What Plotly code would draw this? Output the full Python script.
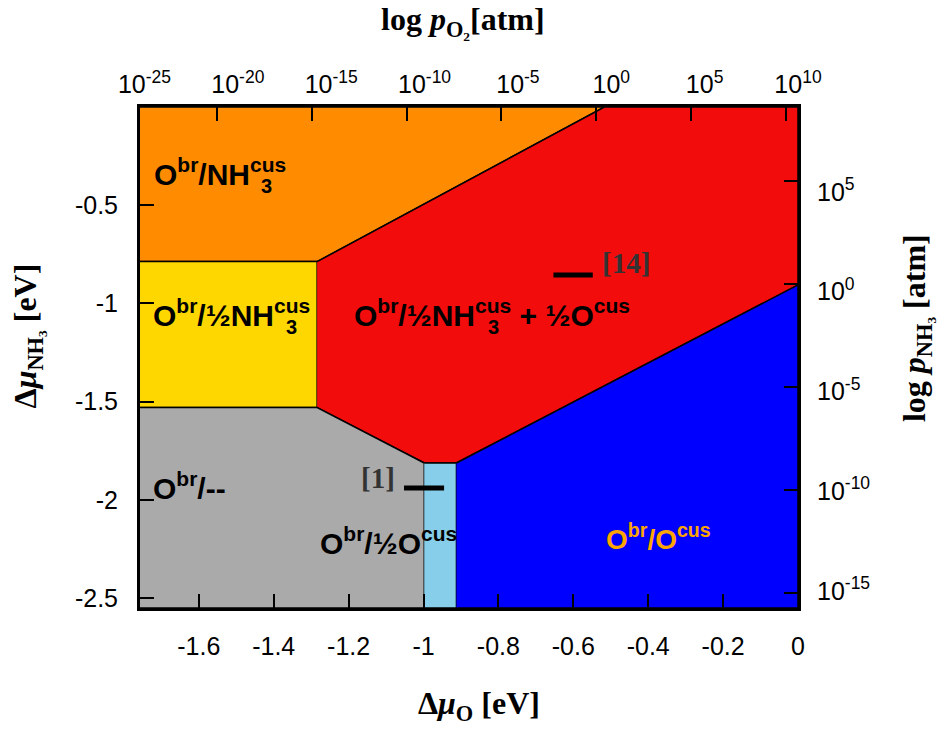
import plotly.graph_objects as go

# ---------------- data (Δμ_O, Δμ_NH3 in eV) ----------------
X_MIN, X_MAX = -1.757, 0.0
Y_MIN, Y_MAX = -2.55, 0.0

orange_x = [X_MIN, -0.517, -1.284, X_MIN]
orange_y = [Y_MAX, Y_MAX, -0.787, -0.787]

yellow_x = [X_MIN, -1.284, -1.284, X_MIN]
yellow_y = [-0.787, -0.787, -1.530, -1.530]

red_x = [-1.284, -0.517, X_MAX, X_MAX, -0.912, -0.998, -1.284]
red_y = [-0.787, Y_MAX, Y_MAX, -0.906, -1.812, -1.812, -1.530]

gray_x = [X_MIN, -1.284, -0.998, -0.998, X_MIN]
gray_y = [-1.530, -1.530, -1.812, Y_MIN, Y_MIN]

skyblue_x = [-0.998, -0.912, -0.912, -0.998]
skyblue_y = [-1.812, -1.812, Y_MIN, Y_MIN]

blue_x = [-0.912, X_MAX, X_MAX, -0.912]
blue_y = [-1.812, -0.906, Y_MIN, Y_MIN]

ref14_x = [-0.653, -0.548]
ref14_y = [-0.855, -0.855]
ref1_x = [-1.052, -0.945]
ref1_y = [-1.939, -1.939]

x_ticks = [-1.6, -1.4, -1.2, -1.0, -0.8, -0.6, -0.4, -0.2, 0.0]
x_ticklabels = ["-1.6", "-1.4", "-1.2", "-1", "-0.8", "-0.6", "-0.4", "-0.2", "0"]
y_ticks = [-0.5, -1.0, -1.5, -2.0, -2.5]
y_ticklabels = ["-0.5", "-1", "-1.5", "-2", "-2.5"]

pO2_decades = [-25, -20, -15, -10, -5, 0, 5, 10]
pO2_range_labels = [-25.24, 10.0]
pO2_range_ticks = [-24.08, 10.66]
pNH3_decades = [-15, -10, -5, 0, 5]
pNH3_range_labels = [-15.86, 9.25]
pNH3_range_ticks = [-15.73, 8.59]

regions = [
    (orange_x, orange_y, "#FF8C00"),
    (yellow_x, yellow_y, "#FFD700"),
    (red_x, red_y, "#F20C0C"),
    (gray_x, gray_y, "#AAAAAA"),
    (skyblue_x, skyblue_y, "#87CEEB"),
    (blue_x, blue_y, "#0000FF"),
]

fig = go.Figure()
for xs, ys, col in regions:
    fig.add_trace(go.Scatter(x=xs, y=ys, fill="toself", fillcolor=col, mode="lines",
                             line=dict(color="black", width=1.5), showlegend=False,
                             hoverinfo="skip"))
for xs, ys in [(ref14_x, ref14_y), (ref1_x, ref1_y)]:
    fig.add_trace(go.Scatter(x=xs, y=ys, mode="lines", line=dict(color="black", width=5),
                             showlegend=False, hoverinfo="skip"))
# carriers for secondary axes
fig.add_trace(go.Scatter(x=[], y=[], xaxis="x2", yaxis="y2", showlegend=False))
fig.add_trace(go.Scatter(x=[], y=[], xaxis="x3", yaxis="y3", showlegend=False))

TICKFONT = dict(family="Liberation Sans", size=25, color="black")
LBL = dict(family="Liberation Sans", size=30, color="black", weight="bold")
REF = dict(family="Liberation Serif", size=29, color="#333333", weight="bold")
TITLE = dict(family="Liberation Serif", size=32, color="black", weight="bold")

ann = []
def label(x, y, text, font, xanchor="left"):
    ann.append(dict(x=x, y=y, xref="x", yref="y", text=text, showarrow=False,
                    xanchor=xanchor, yanchor="middle", font=font))

label(-1.726, -0.331, "O<sup>br</sup>/NH<sup>cus</sup>", LBL)
label(-1.418, -0.400, "3", dict(LBL, size=20), xanchor="center")
label(-1.728, -1.048, "O<sup>br</sup>/½NH<sup>cus</sup>", LBL)
label(-1.352, -1.118, "3", dict(LBL, size=20), xanchor="center")
label(-1.192, -1.048, "O<sup>br</sup>/½NH<sup>cus</sup> + ½O<sup>cus</sup>", LBL)
label(-0.812, -1.118, "3", dict(LBL, size=20), xanchor="center")
label(-1.728, -1.929, "O<sup>br</sup>/--", LBL)
label(-1.282, -2.209, "O<sup>br</sup>/½O<sup>cus</sup>", LBL)
label(-0.518, -2.188, "O<sup>br</sup>/O<sup>cus</sup>", dict(LBL, color="#FFA500", size=28))
label(-0.529, -0.794, "[14]", REF)
label(-1.172, -1.888, "[1]", REF)

def ptitle(px, py, text, angle=0):
    ann.append(dict(x=(px - 140.5) / 657.5, y=(608 - py) / 501, xref="paper", yref="paper",
                    text=text, showarrow=False, xanchor="center", yanchor="middle",
                    textangle=angle, font=TITLE))

ptitle(479, 705, "Δ<i>μ</i><sub>O</sub> [eV]")
ptitle(463, 22, "log <i>p</i><sub>O₂</sub>[atm]")
ptitle(28, 336, "Δ<i>μ</i><sub>NH₃</sub> [eV]", -90)
ptitle(916, 328, "log <i>p</i><sub>NH₃</sub> [atm]", -90)

fig.update_layout(
    width=944, height=731,
    margin=dict(l=140, r=146, t=107, b=123),
    paper_bgcolor="white", plot_bgcolor="white",
    annotations=ann,
    xaxis=dict(range=[X_MIN, X_MAX], tickvals=x_ticks, ticktext=x_ticklabels,
               ticks="inside", ticklen=14, tickwidth=1.5, tickcolor="black",
               showline=True, linewidth=3, linecolor="black", mirror=True,
               showgrid=False, zeroline=False, tickfont=TICKFONT, ticklabelstandoff=14),
    yaxis=dict(range=[Y_MIN, Y_MAX], tickvals=y_ticks, ticktext=y_ticklabels,
               ticks="inside", ticklen=14, tickwidth=1.5, tickcolor="black",
               showline=True, linewidth=3, linecolor="black", mirror=True,
               showgrid=False, zeroline=False, tickfont=TICKFONT, ticklabelstandoff=14),
    xaxis2=dict(overlaying="x", side="top", anchor="y", range=pO2_range_labels,
                tickvals=pO2_decades, ticktext=[f"10<sup>{d}</sup>" for d in pO2_decades],
                ticks="", showline=False, showgrid=False, zeroline=False,
                tickfont=TICKFONT, ticklabelstandoff=8),
    xaxis3=dict(overlaying="x", side="top", anchor="y", range=pO2_range_ticks,
                tickvals=pO2_decades, ticks="inside", ticklen=14, tickwidth=1.5,
                tickcolor="black", showticklabels=False, showline=False,
                showgrid=False, zeroline=False),
    yaxis2=dict(overlaying="y", side="right", anchor="x", range=pNH3_range_labels,
                tickvals=pNH3_decades, ticktext=[f"10<sup>{d}</sup>" for d in pNH3_decades],
                ticks="", showline=False, showgrid=False, zeroline=False,
                tickfont=TICKFONT, ticklabelstandoff=18),
    yaxis3=dict(overlaying="y", side="right", anchor="x", range=pNH3_range_ticks,
                tickvals=pNH3_decades, ticks="inside", ticklen=14, tickwidth=1.5,
                tickcolor="black", showticklabels=False, showline=False,
                showgrid=False, zeroline=False),
)

fig.write_html("out.html")
